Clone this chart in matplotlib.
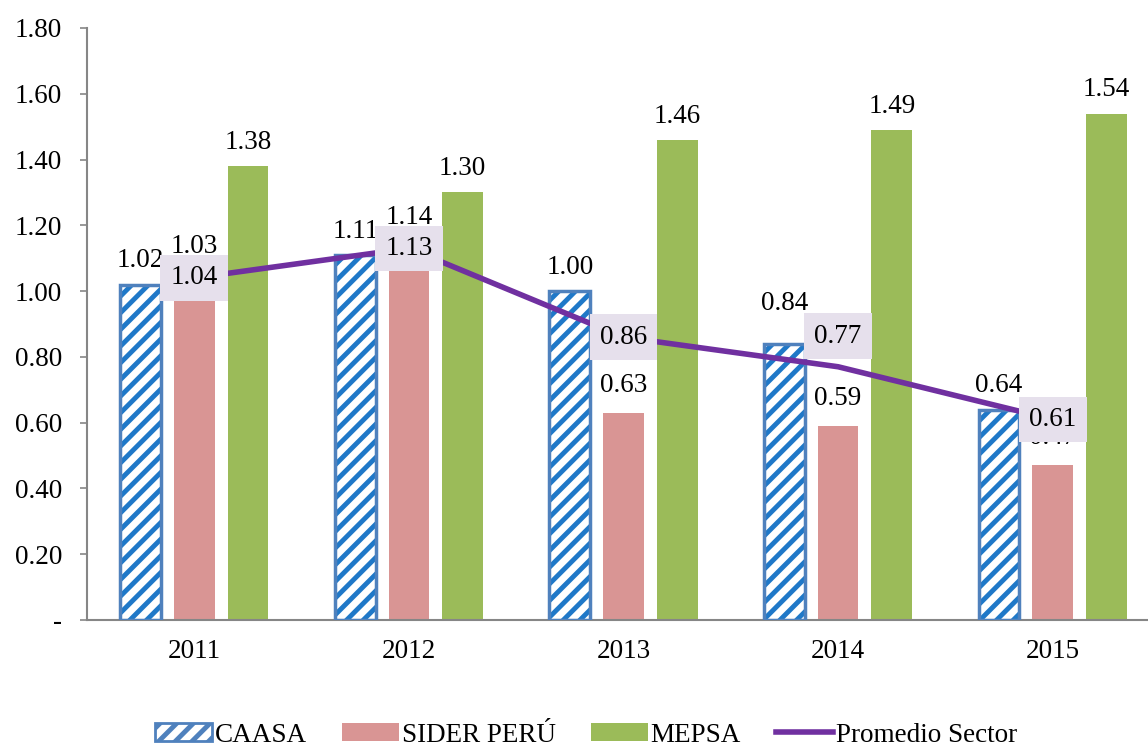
import matplotlib
matplotlib.use("Agg")
import matplotlib.pyplot as plt
import numpy as np
from matplotlib.patches import Patch
from matplotlib.lines import Line2D

years = ["2011", "2012", "2013", "2014", "2015"]
caasa = [1.02, 1.11, 1.00, 0.84, 0.64]
sider = [1.03, 1.14, 0.63, 0.59, 0.47]
mepsa = [1.38, 1.30, 1.46, 1.49, 1.54]
promedio = [1.04, 1.13, 0.86, 0.77, 0.61]
yticks = [0, 0.2, 0.4, 0.6, 0.8, 1.0, 1.2, 1.4, 1.6, 1.8]
ytick_labels = ["-", "0.20", "0.40", "0.60", "0.80", "1.00", "1.20", "1.40", "1.60", "1.80"]

C_HATCH = "#1F78C8"
C_EDGE = "#4F81BD"
C_SIDER = "#D99594"
C_MEPSA = "#9BBB59"
C_LINE = "#7030A0"
C_BOX = "#E6E0EC"

plt.rcParams['font.family'] = ['Liberation Serif', 'DejaVu Serif']
plt.rcParams['hatch.linewidth'] = 3.5

fig = plt.figure(figsize=(11.48, 7.49), dpi=100)
ax = fig.add_axes([87/1148, (749-620)/749, (1160-87)/1148, (620-28)/749])

x = np.arange(len(years))
w = 0.19
off = 0.25
fs = 19.5

# CAASA: hatch layer + edge layer
ax.bar(x - off, caasa, w, color="white", edgecolor=C_HATCH, hatch="//", linewidth=0, zorder=2)
ax.bar(x - off, caasa, w, fill=False, edgecolor=C_EDGE, linewidth=2.5, zorder=3)
ax.bar(x, sider, w, color=C_SIDER, zorder=2)
ax.bar(x + off, mepsa, w, color=C_MEPSA, zorder=2)

caasa_dy = [8, 8, 8, 20, 8]
sider_dy = [16, 11, 11, 11, 11]
for xs, vals, dys in [(x - off, caasa, caasa_dy), (x, sider, sider_dy), (x + off, mepsa, [8] * 5)]:
    for xi, v, dy in zip(xs, vals, dys):
        ax.annotate(f"{v:.2f}", (xi, v), xytext=(0, dy), textcoords="offset points",
                    ha="center", va="bottom", fontsize=fs, zorder=4)

ax.plot(x, promedio, color=C_LINE, linewidth=4, zorder=5)
prom_dy = [0, 0, 0, 22, 0]
for xi, v, dy in zip(x, promedio, prom_dy):
    ax.annotate(f"{v:.2f}", (xi, v), xytext=(0, dy), textcoords="offset points",
                ha="center", va="center", fontsize=fs, zorder=6,
                bbox=dict(boxstyle="square,pad=0.38", facecolor=C_BOX, edgecolor="none"))

ax.set_xlim(-0.5, 4.5)
ax.set_ylim(0, 1.8)
ax.set_yticks(yticks)
ax.set_yticklabels(ytick_labels, fontsize=fs)
ax.set_xticks(x)
ax.set_xticklabels(years, fontsize=fs)
ax.tick_params(axis="x", length=0, pad=14)
ax.tick_params(axis="y", length=5, width=1.2, color="#868686", pad=13)
for s in ["top", "right"]:
    ax.spines[s].set_visible(False)
for s in ["left", "bottom"]:
    ax.spines[s].set_color("#868686")
    ax.spines[s].set_linewidth(1.5)

handles = [
    Patch(facecolor="white", edgecolor=C_EDGE, hatch="//", linewidth=2),
    Patch(facecolor=C_SIDER),
    Patch(facecolor=C_MEPSA),
    Line2D([0], [0], color=C_LINE, linewidth=4),
]
labels = ["CAASA", "SIDER PERÚ", "MEPSA", "Promedio Sector"]
fig.legend(handles, labels, loc="center", bbox_to_anchor=(586/1148, 1 - 735/749), ncol=4,
           frameon=False, fontsize=fs, handlelength=2.1, handleheight=0.6,
           handletextpad=0.1, columnspacing=1.3, borderpad=0.2)

fig.savefig("out.png", dpi=100)
